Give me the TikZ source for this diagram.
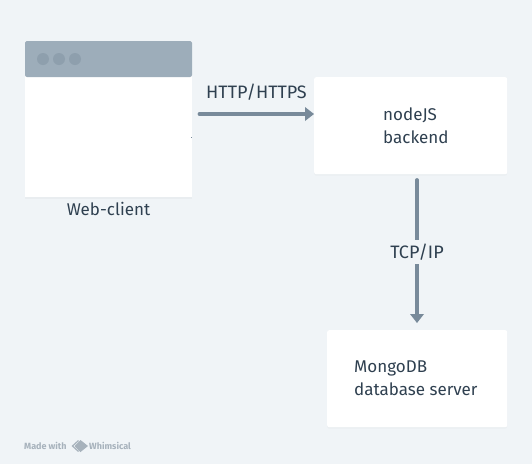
\documentclass[tikz,border=0pt]{standalone}
\usepackage{fontspec}
\setmainfont{Fira Sans}
\usetikzlibrary{arrows.meta,shadows}
\definecolor{bgc}{HTML}{F0F4F7}
\definecolor{barc}{HTML}{9DADBA}
\definecolor{dotc}{HTML}{8E9FAD}
\definecolor{linec}{HTML}{788A9A}
\definecolor{textc}{HTML}{2F4050}
\definecolor{markc}{HTML}{A7B2BC}
\tikzset{
  box/.style={draw=none,fill=white,rounded corners=2pt,anchor=north west,inner sep=0pt,
    drop shadow={opacity=0.04,shadow xshift=0pt,shadow yshift=-1.5pt}},
  lbl/.style={text=textc,font=\fontsize{17}{23.5}\selectfont,inner sep=0pt},
  caplbl/.style={text=textc,font=\fontsize{18}{23.5}\selectfont,inner sep=0pt},
  conn/.style={draw=linec,line width=3.8pt,line cap=round,
    -{Triangle[length=9pt,width=14pt,line width=0pt]}},
  winstyle/.style={anchor=north west,inner sep=0pt,fill=white,
    drop shadow={opacity=0.06,shadow xshift=0pt,shadow yshift=-2pt}},
  dotn/.style={circle,fill=dotc,minimum size=12pt,inner sep=0pt},
  credit/.style={text=markc,font=\fontsize{9}{10}\selectfont\bfseries,inner sep=0pt,anchor=west},
}
\begin{document}
\begin{tikzpicture}[x=1pt,y=-1pt]
\fill[bgc] (0,0) rectangle (532,464);
\useasboundingbox (0,0) rectangle (532,464);
% browser window
\node[winstyle,minimum width=167pt,minimum height=156pt] (win) at (25,41) {};
\fill[barc,rounded corners=2pt] (25,77) -- (25,41) -- (192,41) -- (192,77) -- cycle;
\node[dotn] (d1) at (43,59) {};
\node[dotn] (d2) at (59,59) {};
\node[dotn] (d3) at (75,59) {};
\fill[linec] (190.5,136.5) rectangle (192,137.5);
\node[lbl] (wl) at (108.5,209) {Web-client};
% boxes
\node[box,minimum width=193pt,minimum height=97pt] (backend) at (314,77) {};
\node[lbl,align=left,anchor=west] (bt) at (383,125.5) {nodeJS\\backend};
\node[box,minimum width=180pt,minimum height=97pt] (db) at (327,330) {};
\node[lbl,align=left,anchor=west] (dt) at (354,378) {MongoDB\\database server};
% connectors
\coordinate (a) at (199.5,114);
\draw[conn] (a) -- (a -| backend.west);
\node[caplbl] (http) at (256.5,92) {HTTP/HTTPS};
\coordinate (t) at (417,180);
\coordinate (b) at (417,323);
\draw[conn] (t) -- (b);
\node[caplbl,fill=bgc,minimum width=60pt,minimum height=24pt] (tcp) at (417,252) {TCP/IP};
% credit
\node[credit] (made) at (24,446) {Made with};
\fill[markc] (80.5,440) -- (88,446) -- (80.5,452) -- (74.5,446) -- cycle;
\draw[markc,line width=1.2pt] (78.5,440.5) -- (72.5,446) -- (78.5,451.5);
\node[credit] (whim) at (89,446) {Whimsical};
\end{tikzpicture}
\end{document}
